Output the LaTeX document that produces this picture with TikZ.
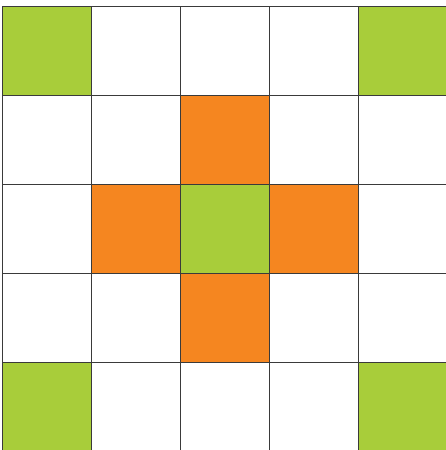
\documentclass[tikz,border=0pt]{standalone}
\usepackage{tikz}

\definecolor{cellgreen}{HTML}{A8CD3A}
\definecolor{cellorange}{HTML}{F58620}
\definecolor{gridline}{HTML}{3A3A3A}

\begin{document}
\begin{tikzpicture}[x=2cm,y=-2cm]
    % page frame, grid runs off at right and bottom
    \clip (-0.028,-0.073) rectangle (4.983,4.983);
    \useasboundingbox (-0.028,-0.073) rectangle (4.983,4.983);

    % green corners and centre
    \foreach \c/\r in {0/0,4/0,0/4,4/4,2/2}{
        \fill[cellgreen] (\c,\r) rectangle ++(1,1);
    }
    % orange cross
    \foreach \c/\r in {2/1,1/2,3/2,2/3}{
        \fill[cellorange] (\c,\r) rectangle ++(1,1);
    }

    % grid lines
    \foreach \i in {0,...,5}{
        \draw[gridline, line width=0.8pt] (\i,0) -- (\i,5);
        \draw[gridline, line width=0.8pt] (0,\i) -- (5,\i);
    }
\end{tikzpicture}
\end{document}
